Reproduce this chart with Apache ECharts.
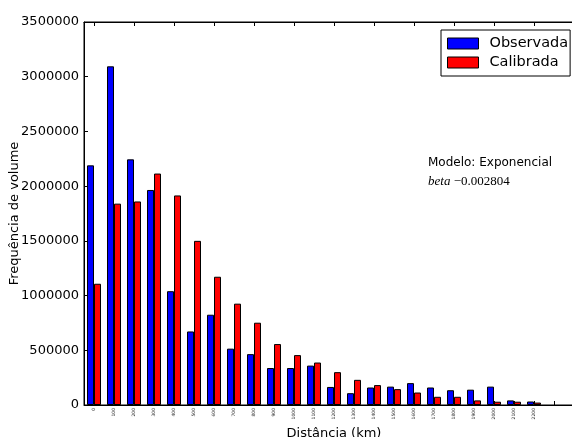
<!DOCTYPE html>
<html>
<head>
<meta charset="utf-8">
<script src="https://cdn.jsdelivr.net/npm/echarts@6/dist/echarts.min.js"></script>
<style>html,body{margin:0;padding:0;background:#fff}#c{width:572px;height:437px}</style>
</head>
<body>
<div id="c"></div>
<script>
const categories = ['0','100','200','300','400','500','600','700','800','900','1000','1100','1200','1300','1400','1500','1600','1700','1800','1900','2000','2100','2200'];
const observada = [2190000,3095000,2245000,1965000,1040000,672000,825000,515000,465000,338000,338000,360000,165000,108000,160000,168000,200000,160000,135000,140000,168000,42000,32000];
const calibrada = [1108000,1840000,1860000,2115000,1915000,1500000,1172000,926000,752000,557000,456000,388000,300000,230000,182000,145000,114000,75000,75000,42000,30000,30000,22000];
const yTicks = {min:0, max:3500000, interval:500000};
const modelText = 'Modelo: Exponencial';
const betaValue = '\u22120.002804';

const chart = echarts.init(document.getElementById('c'), null, {renderer:'canvas'});
const font = 'DejaVu Sans';
chart.setOption({
  animation:false,
  textStyle:{fontFamily:font},
  grid:{left:84, top:22, width:500, bottom:32, show:true, borderColor:'#000', borderWidth:1, containLabel:false, outerBoundsMode:'none'},
  legend:{
    left:441, top:30, orient:'vertical',
    padding:[6,2,6,6], itemGap:4, itemWidth:31, itemHeight:11,
    borderColor:'#000', borderWidth:1, borderRadius:0, backgroundColor:'#fff',
    icon:'rect',
    itemStyle:{borderColor:'#000', borderWidth:1},
    textStyle:{fontFamily:font, fontSize:14.5, color:'#000', padding:[0,0,0,6]},
    data:['Observada','Calibrada']
  },
  xAxis:[{
    type:'category', data:categories, max:24, position:'bottom',
    axisLine:{show:true, lineStyle:{color:'#000', width:1}},
    axisTick:{show:true, inside:true, length:4, alignWithLabel:true, lineStyle:{color:'#000'}},
    axisLabel:{rotate:90, fontSize:4.5, color:'#333', margin:3, interval:0},
    name:'Distância (km)', nameLocation:'middle', nameGap:22, nameMoveOverlap:false,
    nameTextStyle:{fontFamily:font, fontSize:13, color:'#000', verticalAlign:'top'}
  },{
    type:'category', data:categories, max:24, position:'top',
    axisLine:{show:true, lineStyle:{color:'#000', width:1}},
    axisTick:{show:true, inside:true, length:4, alignWithLabel:true, lineStyle:{color:'#000'}},
    axisLabel:{show:false}
  }],
  yAxis:{
    type:'value', min:yTicks.min, max:yTicks.max, interval:yTicks.interval,
    axisLine:{show:true, lineStyle:{color:'#000', width:1}},
    axisTick:{show:true, inside:true, length:4, lineStyle:{color:'#000'}},
    splitLine:{show:false},
    axisLabel:{fontSize:13, color:'#000', margin:5, fontFamily:font, formatter:function(v){return String(v);}},
    name:'Frequência de volume', nameLocation:'middle', nameGap:63, nameMoveOverlap:false,
    nameTextStyle:{fontFamily:font, fontSize:13, color:'#000'}
  },
  series:[
    {name:'Observada', type:'bar', data:observada, barWidth:7, barGap:'0%',
     itemStyle:{color:'#0000ff', borderColor:'#000', borderWidth:1}},
    {name:'Calibrada', type:'bar', data:calibrada, barWidth:7, barGap:'0%',
     itemStyle:{color:'#ff0000', borderColor:'#000', borderWidth:1}}
  ],
  graphic:[
    {type:'text', left:428, top:157, style:{text:modelText, font:'12px "DejaVu Sans"', fill:'#000'}},
    {type:'text', left:428, top:175, style:{
      text:'{i|beta} {n|'+betaValue+'}',
      rich:{i:{fontFamily:'Liberation Serif', fontStyle:'italic', fontSize:13, fill:'#000'},
            n:{fontFamily:'Liberation Serif', fontSize:13, fill:'#000'}},
      fill:'#000'}}
  ]
});
</script>
</body>
</html>
